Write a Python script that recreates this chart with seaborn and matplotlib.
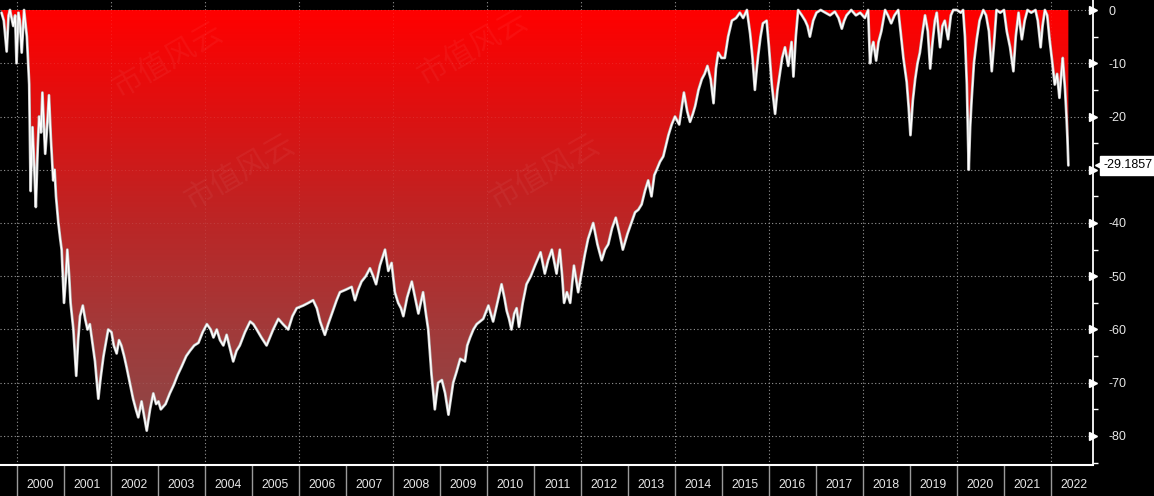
import numpy as np
import pandas as pd
import matplotlib
matplotlib.use("Agg")
import matplotlib.pyplot as plt
import seaborn as sns
from matplotlib.colors import LinearSegmentedColormap
from matplotlib.transforms import blended_transform_factory

# ---------------- data (decimal year, drawdown %) ----------------
dates = [
    1999.67, 1999.72, 1999.78, 1999.82, 1999.85, 1999.92, 1999.96, 1999.99,
    2000.03, 2000.06, 2000.10, 2000.15, 2000.21, 2000.26, 2000.29, 2000.33,
    2000.37, 2000.40, 2000.44, 2000.47, 2000.51, 2000.54, 2000.60, 2000.64,
    2000.68, 2000.72, 2000.77, 2000.80, 2000.83, 2000.88, 2000.92, 2000.95,
    2001.00, 2001.04, 2001.07, 2001.11, 2001.14, 2001.20, 2001.26, 2001.30,
    2001.34, 2001.40, 2001.45, 2001.50, 2001.55, 2001.59, 2001.66, 2001.73,
    2001.78, 2001.84, 2001.90, 2001.94, 2002.01, 2002.06, 2002.12, 2002.17,
    2002.22, 2002.28, 2002.33, 2002.40, 2002.47, 2002.53, 2002.58, 2002.65,
    2002.70, 2002.76, 2002.83, 2002.90, 2002.96, 2003.01, 2003.06, 2003.11,
    2003.16, 2003.25, 2003.33, 2003.42, 2003.50, 2003.60, 2003.68, 2003.77,
    2003.86, 2003.95, 2004.04, 2004.12, 2004.18, 2004.25, 2004.32, 2004.39,
    2004.46, 2004.53, 2004.60, 2004.67, 2004.74, 2004.85, 2004.96, 2005.03,
    2005.10, 2005.20, 2005.31, 2005.38, 2005.45, 2005.56, 2005.66, 2005.77,
    2005.86, 2005.95, 2006.09, 2006.20, 2006.30, 2006.38, 2006.45, 2006.55,
    2006.62, 2006.70, 2006.80, 2006.87, 2007.00, 2007.12, 2007.19, 2007.26,
    2007.33, 2007.42, 2007.51, 2007.58, 2007.64, 2007.72, 2007.83, 2007.90,
    2007.97, 2008.04, 2008.11, 2008.17, 2008.22, 2008.30, 2008.40, 2008.47,
    2008.54, 2008.64, 2008.70, 2008.75, 2008.79, 2008.82, 2008.86, 2008.89,
    2008.93, 2008.96, 2009.04, 2009.11, 2009.18, 2009.23, 2009.28, 2009.35,
    2009.43, 2009.53, 2009.58, 2009.64, 2009.71, 2009.78, 2009.85, 2009.92,
    2010.03, 2010.08, 2010.13, 2010.22, 2010.31, 2010.37, 2010.42, 2010.47,
    2010.52, 2010.58, 2010.63, 2010.68, 2010.76, 2010.84, 2010.93, 2011.02,
    2011.14, 2011.23, 2011.30, 2011.38, 2011.48, 2011.55, 2011.60, 2011.64,
    2011.70, 2011.77, 2011.85, 2011.94, 2012.01, 2012.08, 2012.15, 2012.26,
    2012.35, 2012.44, 2012.51, 2012.58, 2012.66, 2012.74, 2012.82, 2012.89,
    2012.99, 2013.07, 2013.15, 2013.22, 2013.29, 2013.36, 2013.43, 2013.50,
    2013.56, 2013.61, 2013.68, 2013.75, 2013.82, 2013.86, 2013.93, 2014.00,
    2014.09, 2014.19, 2014.26, 2014.32, 2014.38, 2014.43, 2014.50, 2014.57,
    2014.63, 2014.69, 2014.76, 2014.82, 2014.87, 2014.92, 2014.99, 2015.06,
    2015.13, 2015.21, 2015.30, 2015.38, 2015.45, 2015.53, 2015.60, 2015.65,
    2015.70, 2015.74, 2015.77, 2015.82, 2015.87, 2015.95, 2016.00, 2016.06,
    2016.13, 2016.18, 2016.23, 2016.28, 2016.34, 2016.41, 2016.48, 2016.52,
    2016.57, 2016.62, 2016.70, 2016.77, 2016.82, 2016.87, 2016.94, 2017.01,
    2017.10, 2017.20, 2017.30, 2017.40, 2017.48, 2017.55, 2017.60, 2017.65,
    2017.75, 2017.85, 2017.94, 2018.04, 2018.11, 2018.15, 2018.19, 2018.22,
    2018.28, 2018.33, 2018.39, 2018.47, 2018.53, 2018.60, 2018.67, 2018.75,
    2018.80, 2018.86, 2018.93, 2018.97, 2019.01, 2019.06, 2019.11, 2019.16,
    2019.21, 2019.27, 2019.32, 2019.38, 2019.43, 2019.48, 2019.53, 2019.57,
    2019.64, 2019.69, 2019.74, 2019.81, 2019.87, 2019.92, 2020.00, 2020.08,
    2020.13, 2020.17, 2020.21, 2020.25, 2020.28, 2020.31, 2020.36, 2020.42,
    2020.48, 2020.56, 2020.62, 2020.68, 2020.74, 2020.79, 2020.84, 2020.92,
    2021.00, 2021.06, 2021.13, 2021.20, 2021.25, 2021.31, 2021.38, 2021.44,
    2021.50, 2021.58, 2021.67, 2021.72, 2021.78, 2021.82, 2021.87, 2021.92,
    2021.97, 2022.03, 2022.08, 2022.13, 2022.18, 2022.22, 2022.25, 2022.30,
    2022.33, 2022.35, 2022.37,
]
drawdown = [
    -0.5, -2, -7.8, -1, 0, -3, -1, -10,
    -0.5, -2, -8, 0, -5, -14, -34, -22,
    -30, -37, -26, -20, -23, -15.5, -27, -22,
    -16, -24, -32, -30, -35, -40, -43, -45,
    -55, -50, -45, -50, -55, -60, -68.7, -62,
    -57.5, -55.5, -58, -60, -59, -61.5, -66, -73,
    -69, -65, -62, -60, -60.5, -63, -64.5, -62,
    -63, -65, -67, -70, -73, -75, -76.5, -73.5,
    -76, -79, -75, -72, -74, -73.5, -75, -74.5,
    -74, -72, -70.5, -68.5, -67, -65, -64, -63,
    -62.5, -60.5, -59, -60, -61.5, -60, -62, -63,
    -61, -63.5, -66, -64, -63, -60.5, -58.5, -59,
    -60, -61.5, -63, -61.5, -60, -58, -59, -60,
    -57.5, -56, -55.5, -55, -54.5, -56, -58.5, -61,
    -59, -57, -54.5, -53, -52.5, -52, -54.5, -52.5,
    -51, -50, -48.5, -50, -51.5, -48, -45, -49,
    -47.5, -53, -55, -56, -57.5, -54, -51, -54,
    -57, -53, -57, -60, -65, -68.5, -72, -75,
    -72, -70, -69.5, -72, -76, -73, -70, -68,
    -65.5, -66, -63, -61.5, -60, -59, -58.5, -58,
    -55.5, -57, -58.5, -55, -51.5, -54, -56.5, -58,
    -60, -57, -56, -59.5, -55, -51.5, -50, -48,
    -45.5, -49.5, -47, -45, -49.5, -45, -50, -55,
    -53, -55, -48, -53, -49.5, -46, -43, -40,
    -44, -47, -45, -44, -41, -39, -42, -45,
    -42, -40, -38, -37.5, -36.5, -34, -32, -35,
    -31, -30, -28.5, -27.5, -25, -23.5, -21.5, -20,
    -21.5, -15.5, -19, -21, -19.5, -18, -15, -13,
    -12, -10.5, -13, -17.5, -11, -8, -9, -9,
    -5, -2, -1.5, -0.5, -1.5, 0, -4.5, -9,
    -15, -11, -8.5, -5, -2.5, -2, -7, -14,
    -19.5, -15, -12, -9, -7, -10.5, -6, -12.5,
    -5, 0, -1, -2, -3, -5, -2, -0.5,
    0, -0.5, -1, -0.3, -1.5, -3.5, -2, -1,
    0, -1, -0.5, -1.5, 0, -10, -7, -6,
    -9.5, -6, -4, 0, -1, -2.5, -1, 0,
    -4, -9, -13.5, -18, -23.5, -17, -13, -10,
    -8, -4, -1, -4, -11, -6, -2, -0.5,
    -7, -3, -2, -5.5, -1, 0, 0, -0.5,
    0, -5, -14, -30, -22, -17, -10, -5.5,
    -2, 0, -1, -4, -11.5, -6, 0, -0.5,
    0, -4, -7, -11.5, -5, -0.5, -5.5, -2,
    0, -0.5, 0, -2, -7, -3, 0, -1,
    -5.5, -10, -14, -12, -16.5, -12, -9, -15,
    -20, -24, -29.1857,
]
years = list(range(2000, 2023))
y_major = [0, -10, -20, -30, -40, -50, -60, -70, -80]
y_minor = [-5, -15, -25, -35, -45, -55, -65, -75, -85]
last_label = "-29.1857"
watermark = "市值风云"

df = pd.DataFrame({"date": dates, "drawdown": drawdown})

# ---------------- style ----------------
sns.set_theme(style="dark", rc={
    "figure.facecolor": "black",
    "axes.facecolor": "black",
    "axes.edgecolor": "white",
    "text.color": "#e6e6e6",
    "xtick.color": "#e0e0e0",
    "ytick.color": "#e0e0e0",
    "xtick.bottom": True,
    "ytick.right": True,
})
plt.rcParams["font.family"] = ["Liberation Sans", "Noto Sans CJK SC", "DejaVu Sans"]

W, H = 1154, 496
fig = plt.figure(figsize=(W / 100, H / 100), dpi=100, facecolor="black")
ax = fig.add_axes([0, 31 / H, 1093 / W, 465 / H])
ax.set_facecolor("black")

xmin, xmax = 1999.638, 2022.894
ymin, ymax = -85.45, 1.88

# grid (below the fill)
grid_style = dict(color="#8a8a8a", lw=0.8, ls=(0, (1, 2.2)), zorder=0.5)
for yv in y_major:
    ax.axhline(yv, **grid_style)
for yr in years[::2]:
    ax.axvline(yr, **grid_style)

# gradient fill between 0 and the curve
poly = ax.fill_between(df["date"], df["drawdown"], 0, facecolor="none",
                       edgecolor="none", lw=0)
cmap = LinearSegmentedColormap.from_list(
    "dd", ["#ff0000", "#dc1212", "#bb2626", "#a23a3a", "#8c4848"])
grad = np.linspace(0, 1, 256).reshape(-1, 1)
im = ax.imshow(grad, extent=[xmin, xmax, -80, 0], origin="upper",
               aspect="auto", cmap=cmap, zorder=1, interpolation="bicubic")
im.set_clip_path(poly.get_paths()[0], transform=ax.transData)

# faint grid visible through the fill
faint = dict(color="white", alpha=0.10, lw=0.8, ls=(0, (1, 2.2)), zorder=1.5)
for yv in y_major:
    ax.axhline(yv, **faint)
for yr in years[::2]:
    ax.axvline(yr, **faint)

# the drawdown line
sns.lineplot(data=df, x="date", y="drawdown", ax=ax, color="#bdbdbd",
             lw=2.0, zorder=2, estimator=None, sort=False)
sns.lineplot(data=df, x="date", y="drawdown", ax=ax, color="white",
             lw=1.0, zorder=2.1, estimator=None, sort=False)

ax.set_xlim(xmin, xmax)
ax.set_ylim(ymin, ymax)
ax.set_xlabel("")
ax.set_ylabel("")

# spines
for s in ["top", "left"]:
    ax.spines[s].set_visible(False)
ax.spines["right"].set_color("white")
ax.spines["right"].set_linewidth(1.3)
ax.spines["bottom"].set_color("white")
ax.spines["bottom"].set_linewidth(1.5)

# x axis: year boundaries as long ticks, labels centred in each year
ax.set_xticks(years)
ax.set_xticklabels([])
ax.set_xticks([y + 0.5 for y in years], minor=True)
ax.set_xticklabels([str(y) for y in years], minor=True)
ax.tick_params(axis="x", which="major", bottom=True, length=22.5, width=1.0,
               color="#9a9a9a", direction="out")
ax.tick_params(axis="x", which="minor", bottom=True, length=0, pad=10,
               labelsize=8.8, labelcolor="#e6e6e6")

# y axis on the right (the -30 label sits under the last-value box)
ax.yaxis.tick_right()
ax.set_yticks(y_major)
ax.set_yticklabels(["" if v == -30 else str(v) for v in y_major])
ax.set_yticks(y_minor, minor=True)
ax.tick_params(axis="y", which="major", right=True, length=0, pad=11,
               labelsize=9, labelcolor="#e6e6e6")
ax.tick_params(axis="y", which="minor", right=True, length=3.5, width=1.0,
               color="white", direction="out")
ax.grid(False)

tr = blended_transform_factory(ax.transAxes, ax.transData)
ax.plot([1.0] * len(y_major), y_major, ls="none", marker=">", ms=5.5,
        mfc="white", mec="white", transform=tr, clip_on=False, zorder=5)

# last-value box
last_val = drawdown[-1]
ax.text(1.0095, last_val, last_label, transform=tr, ha="left", va="center",
        fontsize=9, color="black", zorder=7,
        bbox=dict(boxstyle="square,pad=0.28", fc="white", ec="white"))
ax.plot([1.0075], [last_val], ls="none", marker="<", ms=8, mfc="white",
        mec="white", transform=tr, clip_on=False, zorder=6)

# watermark
for (px, py) in [(168, 60), (240, 172), (473, 48), (545, 172)]:
    fig.text(px / W, 1 - py / H, watermark, rotation=30, ha="center",
             va="center", fontsize=22, color="white", alpha=0.05,
             family=["Noto Sans CJK SC", "DejaVu Sans"])

fig.savefig("out.png", dpi=100, facecolor="black")
